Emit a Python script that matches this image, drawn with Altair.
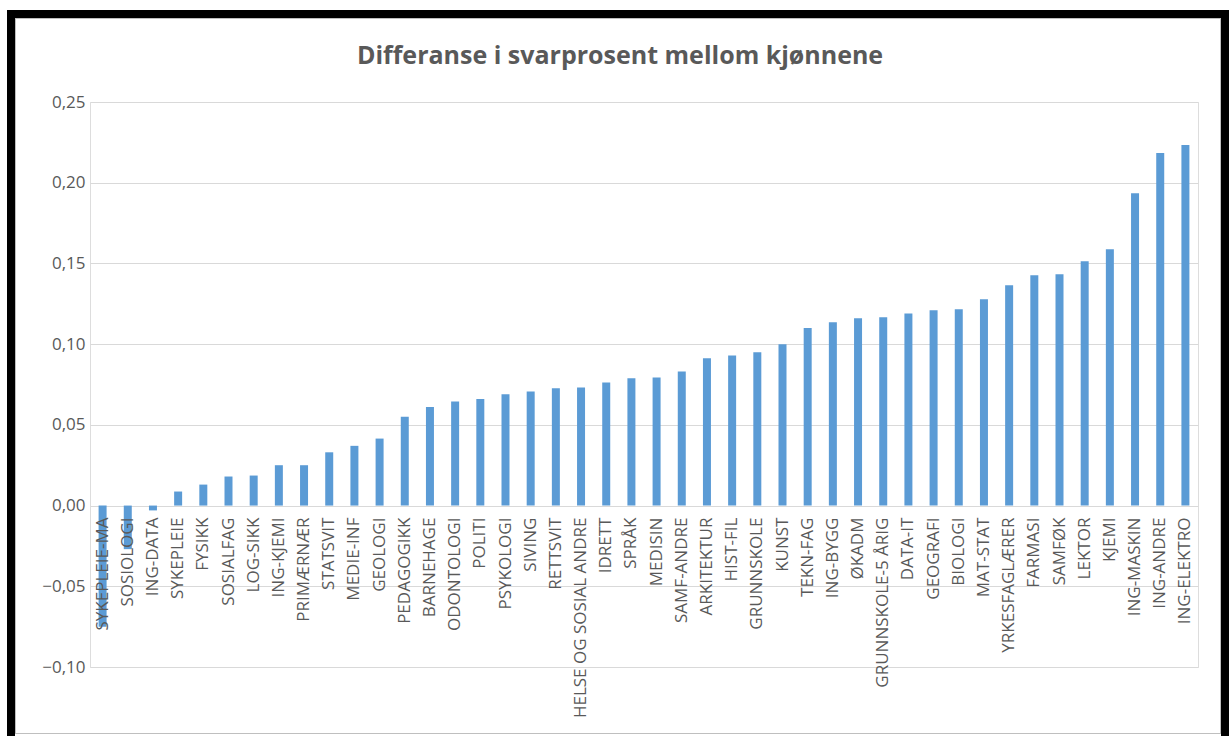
import altair as alt
import pandas as pd

categories = [
    "SYKEPLEIE-MA", "SOSIOLOGI", "ING-DATA", "SYKEPLEIE", "FYSIKK", "SOSIALFAG",
    "LOG-SIKK", "ING-KJEMI", "PRIMÆRNÆR", "STATSVIT", "MEDIE-INF", "GEOLOGI",
    "PEDAGOGIKK", "BARNEHAGE", "ODONTOLOGI", "POLITI", "PSYKOLOGI", "SIVING",
    "RETTSVIT", "HELSE OG SOSIAL ANDRE", "IDRETT", "SPRÅK", "MEDISIN", "SAMF-ANDRE",
    "ARKITEKTUR", "HIST-FIL", "GRUNNSKOLE", "KUNST", "TEKN-FAG", "ING-BYGG",
    "ØKADM", "GRUNNSKOLE-5 ÅRIG", "DATA-IT", "GEOGRAFI", "BIOLOGI", "MAT-STAT",
    "YRKESFAGLÆRER", "FARMASI", "SAMFØK", "LEKTOR", "KJEMI", "ING-MASKIN",
    "ING-ANDRE", "ING-ELEKTRO",
]
values = [
    -0.075, -0.027, -0.003, 0.0087, 0.013, 0.018,
    0.0186, 0.025, 0.025, 0.033, 0.037, 0.0415,
    0.055, 0.061, 0.0645, 0.066, 0.069, 0.0707,
    0.0726, 0.0732, 0.0763, 0.0788, 0.0794, 0.083,
    0.0912, 0.093, 0.095, 0.0999, 0.110, 0.1135,
    0.116, 0.1166, 0.119, 0.121, 0.1216, 0.1278,
    0.1365, 0.1427, 0.1433, 0.1514, 0.1588, 0.1935,
    0.2184, 0.2233,
]
y_ticks = [-0.10, -0.05, 0.0, 0.05, 0.10, 0.15, 0.20, 0.25]
title_text = "Differanse i svarprosent mellom kjønnene"

df = pd.DataFrame({"kategori": categories, "verdi": values, "null": [0.0] * len(categories)})

GRAY = "#595959"
W, H = 1108, 565

x_enc = alt.X("kategori:N", sort=None,
              axis=alt.Axis(labels=False, ticks=False, domain=False, grid=False, title=None),
              scale=alt.Scale(paddingInner=0.0, paddingOuter=0.0))
y_scale = alt.Scale(domain=[-0.10, 0.25], nice=False, zero=False)

bars = alt.Chart(df).mark_bar(size=8, color="#5b9bd5").encode(
    x=x_enc,
    y=alt.Y("verdi:Q", scale=y_scale,
            axis=alt.Axis(values=y_ticks, title=None, domain=False, ticks=False,
                          grid=True, gridColor="#d9d9d9", gridWidth=1,
                          labelExpr="replace(format(datum.value, '.2f'), '.', ',')",
                          labelFont="Open Sans", labelFontSize=17, labelColor=GRAY,
                          labelPadding=5)),
)

labels = alt.Chart(df).mark_text(
    angle=270, align="right", baseline="middle", dx=-12,
    font="Open Sans", fontSize=17, color=GRAY,
).encode(
    x=x_enc,
    y=alt.Y("null:Q", scale=y_scale),
    text="kategori:N",
)

title = alt.Chart(pd.DataFrame({"t": [title_text]})).mark_text(
    font="Open Sans", fontSize=25, fontWeight="bold",
    color=GRAY, align="center", baseline="middle", clip=False,
).encode(x=alt.value(530), y=alt.value(-46), text="t:N")

frame = alt.Chart(df).mark_rect(
    fill=None, stroke="black", strokeWidth=8, clip=False
).encode(
    x=alt.value(-79), x2=alt.value(1135), y=alt.value(-88), y2=alt.value(645)
)

inner_frame = alt.Chart(df).mark_rect(
    fill=None, stroke="#bfbfbf", strokeWidth=1, clip=False
).encode(
    x=alt.value(-74.5), x2=alt.value(1130.5), y=alt.value(-83.5), y2=alt.value(631.5)
)

chart = alt.layer(frame, inner_frame, bars, labels, title).properties(
    width=W, height=H,
    autosize=alt.AutoSizeParams(type="none"),
    padding={"left": 90, "top": 102, "right": 31, "bottom": 69},
).configure_view(stroke="transparent", strokeWidth=0).configure_axis(
    domain=False, ticks=False
).configure(background="white")

chart.save("out.html", embed_options={"renderer": "svg", "actions": False})
